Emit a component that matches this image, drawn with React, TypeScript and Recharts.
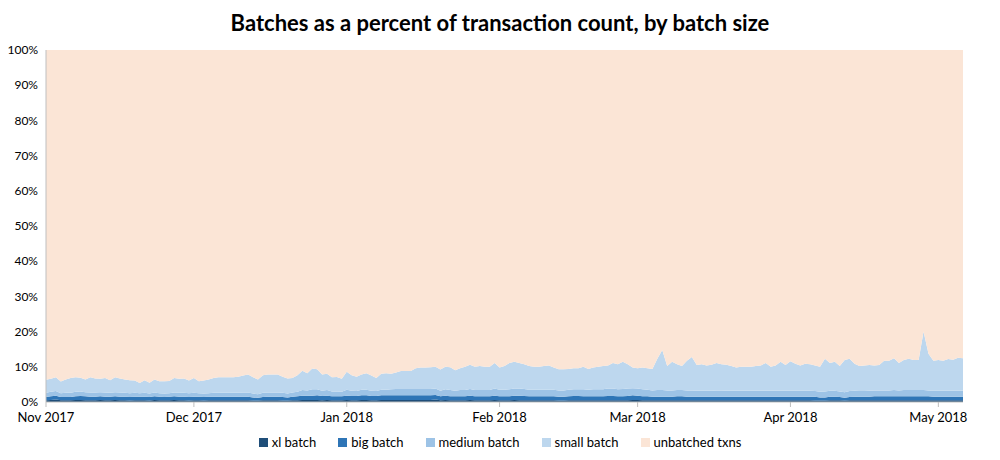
import React from "react";
import { AreaChart, Area, XAxis, YAxis } from "recharts";

const monthTicks = [0, 30, 61, 92, 120, 151, 181];
const monthLabels = ["Nov 2017", "Dec 2017", "Jan 2018", "Feb 2018", "Mar 2018", "Apr 2018", "May 2018"];
const yTicks = [0, 10, 20, 30, 40, 50, 60, 70, 80, 90, 100];

const totalBatched = [
  6.3, 6.6, 7.0, 5.8, 6.4, 6.8, 7.0, 6.9, 6.4, 7.0,
  6.7, 6.6, 6.8, 6.2, 7.0, 6.7, 6.4, 6.2, 6.1, 5.4,
  6.2, 5.5, 6.4, 5.9, 5.9, 6.0, 6.8, 6.6, 6.7, 6.1,
  6.8, 5.9, 6.1, 6.4, 6.8, 7.0, 7.0, 7.0, 7.0, 7.2,
  7.5, 7.8, 7.0, 6.4, 7.6, 7.8, 7.8, 7.8, 7.2, 6.7,
  6.8, 7.6, 8.9, 8.2, 9.5, 9.3, 7.8, 8.0, 7.0, 7.1,
  6.6, 8.6, 7.6, 7.2, 7.8, 8.2, 7.5, 6.8, 8.0, 8.2,
  8.0, 8.4, 8.8, 8.8, 8.8, 9.6, 9.8, 9.8, 9.9, 10.0,
  9.2, 10.0, 9.9, 9.0, 9.6, 10.0, 10.6, 10.0, 10.2, 10.0,
  10.0, 11.1, 9.8, 10.2, 11.1, 11.4, 11.1, 10.7, 10.2, 10.0,
  10.0, 10.2, 10.4, 9.8, 9.3, 9.3, 9.4, 9.6, 9.6, 10.0,
  9.4, 9.8, 10.0, 10.2, 10.4, 11.1, 10.7, 11.4, 10.7, 9.8,
  9.6, 9.8, 9.6, 9.4, 12.3, 14.8, 10.2, 11.4, 10.7, 10.2,
  11.7, 12.8, 10.5, 10.7, 10.4, 10.6, 11.1, 10.7, 10.6, 10.2,
  9.8, 10.0, 10.0, 10.0, 10.2, 10.4, 11.1, 10.0, 10.4, 11.4,
  10.5, 11.6, 10.9, 10.4, 10.9, 10.7, 10.4, 10.0, 12.3, 11.1,
  11.4, 10.2, 11.9, 12.3, 10.9, 10.2, 10.4, 10.5, 10.4, 10.5,
  11.7, 11.7, 12.4, 11.1, 11.9, 12.3, 11.9, 11.9, 20.0, 13.7,
  11.7, 11.9, 11.7, 12.2, 12.0, 12.6, 12.4,
];

const xlBatch = [
  0.5, 0.6, 0.7, 0.5, 0.5, 0.5, 0.6, 0.6, 0.5, 0.5,
  0.5, 0.6, 0.5, 0.5, 0.6, 0.5, 0.5, 0.4, 0.5, 0.5,
  0.5, 0.4, 0.6, 0.5, 0.5, 0.5, 0.6, 0.5, 0.5, 0.4,
  0.5, 0.5, 0.4, 0.5, 0.5, 0.5, 0.5, 0.5, 0.5, 0.5,
  0.5, 0.5, 0.4, 0.4, 0.5, 0.5, 0.5, 0.5, 0.4, 0.4,
  0.5, 0.5, 0.6, 0.6, 0.6, 0.6, 0.5, 0.6, 0.5, 0.5,
  0.5, 0.6, 0.5, 0.5, 0.6, 0.6, 0.5, 0.5, 0.6, 0.6,
  0.6, 0.6, 0.6, 0.6, 0.6, 0.6, 0.6, 0.6, 0.6, 0.7,
  0.5, 0.6, 0.5, 0.5, 0.5, 0.5, 0.6, 0.5, 0.5, 0.5,
  0.5, 0.6, 0.5, 0.5, 0.5, 0.6, 0.5, 0.5, 0.5, 0.5,
  0.5, 0.5, 0.5, 0.5, 0.4, 0.4, 0.5, 0.5, 0.5, 0.5,
  0.5, 0.5, 0.5, 0.5, 0.5, 0.5, 0.5, 0.5, 0.5, 0.6,
  0.6, 0.5, 0.5, 0.5, 0.5, 0.5, 0.5, 0.5, 0.5, 0.5,
  0.5, 0.5, 0.5, 0.5, 0.5, 0.5, 0.5, 0.5, 0.5, 0.5,
  0.5, 0.5, 0.5, 0.5, 0.5, 0.5, 0.5, 0.5, 0.5, 0.5,
  0.5, 0.5, 0.5, 0.5, 0.5, 0.5, 0.4, 0.4, 0.4, 0.5,
  0.5, 0.5, 0.4, 0.5, 0.5, 0.5, 0.5, 0.5, 0.5, 0.5,
  0.5, 0.5, 0.5, 0.5, 0.5, 0.5, 0.5, 0.5, 0.5, 0.5,
  0.5, 0.5, 0.5, 0.5, 0.5, 0.5, 0.5,
];

const bigBatch = [
  0.9, 1.0, 1.1, 0.9, 0.9, 0.9, 1.0, 1.1, 1.1, 1.0,
  1.0, 1.0, 1.0, 1.0, 1.0, 1.0, 1.0, 1.0, 1.0, 1.0,
  1.0, 1.0, 1.0, 1.0, 0.9, 1.0, 1.0, 1.0, 1.0, 1.0,
  1.0, 1.0, 1.0, 1.0, 1.0, 1.0, 1.0, 1.0, 1.0, 1.0,
  1.0, 1.0, 0.9, 0.8, 0.9, 1.0, 1.0, 1.0, 1.0, 0.9,
  1.0, 1.1, 1.2, 1.2, 1.2, 1.3, 1.2, 1.2, 1.1, 1.1,
  1.1, 1.2, 1.2, 1.2, 1.3, 1.3, 1.2, 1.2, 1.3, 1.3,
  1.3, 1.3, 1.3, 1.3, 1.3, 1.3, 1.3, 1.3, 1.3, 1.3,
  1.1, 1.2, 1.1, 1.1, 1.1, 1.1, 1.2, 1.1, 1.1, 1.1,
  1.1, 1.2, 1.1, 1.1, 1.1, 1.2, 1.3, 1.2, 1.1, 1.1,
  1.1, 1.1, 1.1, 1.1, 1.1, 1.1, 1.1, 1.2, 1.2, 1.1,
  1.1, 1.1, 1.1, 1.1, 1.2, 1.2, 1.1, 1.1, 1.2, 1.3,
  1.2, 1.1, 1.1, 1.0, 1.0, 1.0, 1.0, 1.0, 1.1, 1.1,
  1.0, 1.0, 1.0, 1.0, 1.0, 1.0, 1.0, 1.0, 1.0, 1.0,
  1.0, 1.0, 1.0, 1.0, 1.0, 1.0, 1.0, 1.0, 1.0, 1.0,
  1.0, 1.0, 1.0, 1.0, 1.0, 1.0, 1.1, 0.9, 0.9, 1.0,
  1.0, 0.9, 0.8, 0.9, 1.0, 1.0, 1.0, 1.0, 1.1, 1.1,
  1.1, 1.1, 1.1, 1.1, 1.1, 1.1, 1.1, 1.1, 1.1, 1.1,
  1.0, 1.0, 1.0, 1.0, 1.0, 1.0, 1.0,
];

const mediumBatch = [
  1.2, 1.3, 1.3, 1.1, 1.2, 1.2, 1.3, 1.3, 1.2, 1.2,
  1.2, 1.2, 1.2, 1.1, 1.2, 1.2, 1.1, 1.1, 1.1, 1.0,
  1.1, 1.0, 1.1, 1.0, 1.0, 1.0, 1.1, 1.1, 1.1, 1.1,
  1.1, 1.0, 1.0, 1.0, 1.1, 1.1, 1.1, 1.1, 1.1, 1.1,
  1.2, 1.2, 1.1, 1.0, 1.2, 1.2, 1.2, 1.2, 1.2, 1.1,
  1.2, 1.3, 1.6, 1.5, 1.8, 1.7, 1.5, 1.6, 1.4, 1.4,
  1.3, 1.7, 1.5, 1.4, 1.6, 1.6, 1.5, 1.4, 1.6, 1.6,
  1.7, 1.8, 1.8, 1.8, 1.8, 1.8, 1.8, 1.8, 1.8, 1.8,
  1.6, 1.8, 1.8, 1.6, 1.8, 1.8, 1.9, 1.8, 1.8, 1.8,
  1.8, 2.0, 1.9, 1.9, 2.0, 2.0, 2.0, 2.0, 1.9, 1.9,
  1.9, 1.9, 1.9, 1.9, 1.8, 1.8, 1.9, 1.9, 1.9, 2.0,
  1.9, 2.0, 2.0, 2.0, 2.1, 2.1, 2.0, 2.1, 2.1, 2.0,
  2.0, 2.0, 1.9, 1.8, 1.9, 1.9, 1.8, 1.8, 1.8, 1.8,
  1.8, 1.8, 1.7, 1.7, 1.7, 1.7, 1.8, 1.8, 1.7, 1.7,
  1.7, 1.7, 1.7, 1.7, 1.7, 1.7, 1.7, 1.7, 1.7, 1.7,
  1.7, 1.7, 1.7, 1.7, 1.7, 1.7, 1.6, 1.6, 1.7, 1.7,
  1.7, 1.6, 1.6, 1.7, 1.7, 1.6, 1.6, 1.7, 1.7, 1.7,
  1.7, 1.7, 1.8, 1.7, 1.8, 1.8, 1.8, 1.8, 1.8, 1.7,
  1.7, 1.7, 1.7, 1.7, 1.7, 1.7, 1.7,
];

const data = totalBatched.map((t, d) => ({
  d,
  xl: xlBatch[d],
  big: bigBatch[d],
  medium: mediumBatch[d],
  small: +(t - xlBatch[d] - bigBatch[d] - mediumBatch[d]).toFixed(2),
  unbatched: +(100 - t).toFixed(2),
}));

const series = [
  { key: "xl", name: "xl batch", color: "#1f4e79" },
  { key: "big", name: "big batch", color: "#2e75b6" },
  { key: "medium", name: "medium batch", color: "#9dc3e6" },
  { key: "small", name: "small batch", color: "#bdd7ee" },
  { key: "unbatched", name: "unbatched txns", color: "#fbe5d6" },
];

const font = "Lato, 'Open Sans', sans-serif";

export default function App() {
  return (
    <div style={{ position: "absolute", left: 0, top: 0, width: 1000, height: 460, background: "#fff", fontFamily: font }}>
      <div style={{ position: "absolute", top: 9, width: 1000, textAlign: "center", fontSize: 22, fontWeight: 700, color: "#000" }}>
        Batches as a percent of transaction count, by batch size
      </div>
      <AreaChart width={1000} height={460} data={data} margin={{ top: 50, right: 37, left: 0, bottom: 28 }}>
        <XAxis
          dataKey="d"
          type="number"
          domain={[0, 186]}
          ticks={monthTicks}
          tickFormatter={(v) => monthLabels[monthTicks.indexOf(v)]}
          tick={{ fill: "#000", fontSize: 13, fontFamily: font }}
          stroke="#bfbfbf"
          tickSize={5}
          tickMargin={6}
          height={30}
          interval={0}
        />
        <YAxis
          type="number"
          domain={[0, 100]}
          ticks={yTicks}
          tickFormatter={(v) => `${v}%`}
          tick={{ fill: "#000", fontSize: 12, fontFamily: font }}
          stroke="#bfbfbf"
          tickLine={false}
          width={46}
          interval={0}
        />
        {series.map((s) => (
          <Area
            key={s.key}
            type="linear"
            dataKey={s.key}
            name={s.name}
            stackId="1"
            stroke="none"
            fill={s.color}
            fillOpacity={1}
            isAnimationActive={false}
          />
        ))}
      </AreaChart>
      <div style={{ position: "absolute", top: 434, left: 0, width: 1000, display: "flex", justifyContent: "center", gap: 22, fontSize: 13, color: "#000" }}>
        {series.map((s) => (
          <div key={s.key} style={{ display: "flex", alignItems: "center", gap: 4 }}>
            <span style={{ display: "inline-block", width: 9, height: 9, background: s.color }} />
            <span>{s.name}</span>
          </div>
        ))}
      </div>
    </div>
  );
}
